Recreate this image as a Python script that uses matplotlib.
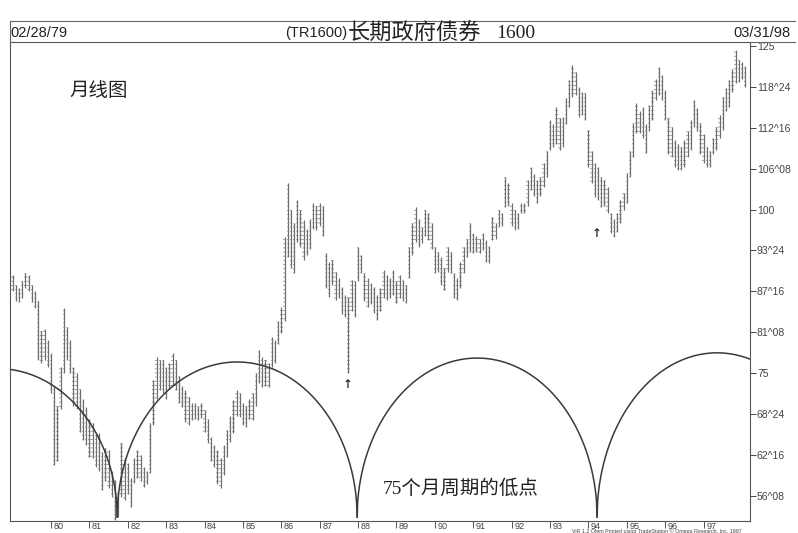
import numpy as np
import matplotlib.pyplot as plt

plt.rcParams['font.family'] = ['Liberation Sans', 'Noto Sans CJK SC', 'DejaVu Sans']
plt.rcParams['hatch.linewidth'] = 0.6

# monthly highs / lows, index 0 = Feb 1979 ... 229 = Mar 1998
highs = [
    90.0, 88.5, 88.0, 89.0, 90.3, 90.0, 88.4, 87.5, 86.0, 81.5, 81.8,
    80.0, 78.0, 73.0, 70.0, 76.0, 85.0, 82.0, 80.0, 76.0, 75.0, 72.5, 71.0,
    69.8, 68.0, 67.4, 65.5, 65.9, 63.0, 63.5, 63.3, 60.0, 58.7, 57.0, 64.3,
    62.0, 61.3, 59.0, 62.0, 63.3, 62.5, 60.7, 60.0, 67.4, 74.0, 77.5, 77.0,
    77.0, 76.0, 76.5, 78.1, 77.0, 74.5, 73.0, 72.4, 71.4, 70.5, 70.5, 70.0,
    70.5, 69.4, 68.0, 65.3, 64.0, 63.3, 62.0, 64.0, 66.3, 68.5, 70.9, 72.4,
    72.0, 70.5, 70.0, 71.0, 72.0, 75.0, 78.6, 77.5, 77.0, 76.5, 80.5, 80.0,
    83.0, 85.1, 95.8, 104.1, 100.0, 98.0, 101.5, 100.0, 98.4, 97.0, 98.5, 101.0,
    100.5, 101.0, 100.5, 93.4, 92.0, 92.3, 90.5, 89.5, 88.2, 87.0, 86.7, 89.2,
    89.0, 94.3, 93.0, 90.3, 89.5, 88.8, 88.2, 87.0, 88.0, 90.8, 90.0, 89.5,
    90.8, 89.0, 90.0, 89.2, 88.5, 94.3, 98.0, 100.4, 98.5, 97.4, 99.9, 99.5,
    98.0, 94.3, 93.5, 92.8, 91.0, 94.3, 93.5, 90.3, 89.5, 92.0, 94.3, 95.5,
    97.9, 96.4, 96.0, 95.5, 96.4, 95.4, 94.5, 98.9, 98.0, 99.9, 99.5, 105.0,
    104.0, 101.0, 100.0, 99.5, 101.0, 101.0, 104.5, 106.5, 105.5, 104.5, 105.0, 107.1,
    109.0, 113.7, 113.0, 115.7, 114.0, 114.2, 117.0, 119.8, 122.1, 121.0, 118.7, 118.0,
    117.8, 112.2, 109.0, 107.1, 106.5, 105.0, 104.5, 103.5, 99.5, 98.5, 99.5, 101.5,
    102.5, 105.6, 109.0, 113.2, 116.3, 115.0, 115.7, 113.0, 116.0, 118.3, 120.0, 121.8,
    120.5, 118.3, 114.0, 112.6, 110.6, 110.0, 109.5, 110.6, 112.0, 113.7, 116.7, 115.5,
    113.2, 111.5, 109.6, 109.0, 111.0, 112.6, 114.5, 117.2, 118.5, 119.8, 121.5, 124.4,
    122.9, 122.5, 122.0,
]
lows = [
    87.5, 86.0, 85.8, 86.5, 88.0, 87.6, 85.8, 85.0, 77.0, 76.5, 77.0,
    76.0, 72.0, 61.0, 61.5, 69.5, 75.0, 77.0, 75.0, 70.0, 69.5, 66.0, 64.8,
    64.0, 62.2, 62.0, 60.7, 60.0, 57.2, 58.5, 57.5, 56.0, 52.6, 53.0, 56.0,
    55.6, 56.5, 54.6, 58.2, 59.0, 58.5, 57.6, 58.0, 59.8, 67.0, 71.0, 72.4,
    72.0, 71.0, 72.5, 73.0, 72.4, 70.5, 69.8, 67.5, 67.0, 67.9, 68.0, 67.9,
    68.2, 66.0, 64.3, 61.5, 60.7, 58.0, 57.5, 59.5, 62.2, 64.5, 65.9, 68.5,
    68.3, 67.0, 66.8, 68.0, 67.9, 70.0, 73.5, 72.9, 73.0, 72.9, 76.0, 76.6,
    79.5, 81.1, 83.0, 92.8, 91.0, 90.3, 95.0, 94.3, 92.3, 93.0, 94.0, 97.0,
    96.9, 97.5, 96.0, 88.0, 86.7, 88.5, 86.2, 86.5, 84.0, 83.6, 75.0, 84.5,
    83.6, 89.0, 90.3, 86.0, 85.1, 85.5, 84.2, 83.1, 84.5, 86.5, 86.2, 86.5,
    87.0, 85.7, 86.5, 86.0, 85.7, 89.5, 93.0, 95.0, 94.3, 94.9, 96.0, 95.4,
    94.0, 90.3, 90.5, 88.5, 87.7, 90.5, 90.3, 86.5, 86.2, 88.0, 90.3, 92.8,
    93.5, 93.4, 93.5, 93.4, 93.8, 92.0, 91.8, 95.4, 95.5, 97.3, 97.5, 100.4,
    100.5, 97.5, 96.9, 97.0, 99.5, 99.5, 100.5, 103.0, 102.0, 101.0, 102.0, 103.5,
    105.0, 109.1, 109.5, 110.0, 109.1, 109.6, 113.0, 115.7, 117.2, 117.5, 114.2, 114.5,
    113.7, 106.5, 104.0, 101.9, 101.5, 100.4, 100.5, 99.5, 96.4, 95.8, 96.5, 97.9,
    100.0, 101.0, 105.0, 108.0, 111.7, 111.7, 111.0, 108.6, 112.0, 113.7, 116.7, 117.5,
    116.7, 113.7, 108.5, 108.0, 106.5, 106.0, 106.0, 106.5, 108.0, 109.1, 112.6, 112.0,
    108.5, 107.1, 106.5, 106.5, 108.5, 109.1, 111.0, 112.2, 115.0, 115.7, 118.0, 119.3,
    119.5, 120.0, 118.7,
]
months = np.arange(len(highs))

year_ticks = np.arange(12, 217, 12)
year_labels = ['80', '81', '82', '83', '84', '85', '86', '87', '88',
               '89', '90', '91', '92', '93', '94', '95', '96', '97']

price_ticks = [125, 118.75, 112.5, 106.25, 100, 93.75, 87.5, 81.25, 75, 68.75, 62.5, 56.25]
price_labels = ['125', '118^24', '112^16', '106^08', '100', '93^24',
                '87^16', '81^08', '75', '68^24', '62^16', '56^08']

# 75-month cycle arcs: low points (month index) and arc tops
arc_edges = [-42.3, 32.7, 107.7, 182.7, 257.7]
arc_tops = [75.7, 76.7, 77.3, 78.1]
arc_base = 53.0

# small arrows under the lows
arrow_x = [104.8, 182.6]
arrow_y = [73.2, 96.4]

W, H = 798, 533
fig = plt.figure(figsize=(W / 100, H / 100), dpi=100)
ax = fig.add_axes([10 / W, 1 - 521 / H, 740 / W, 479 / H])

# scanned-looking bars: thin ladder columns with a solid spine
hl = np.array(highs) - np.array(lows)
ax.bar(months, hl, bottom=lows, width=0.75, fill=False, hatch='----',
       edgecolor='#9a9a9a', linewidth=0.0)
ax.vlines(months, lows, highs, colors='#6e6e6e', linewidth=0.9)

for i in range(len(arc_tops)):
    x0, x1 = arc_edges[i], arc_edges[i + 1]
    c, a = (x0 + x1) / 2, (x1 - x0) / 2
    xs = np.linspace(x0, x1, 400)
    ys = arc_base + (arc_tops[i] - arc_base) * np.sqrt(np.clip(1 - ((xs - c) / a) ** 2, 0, 1))
    ax.plot(xs, ys, color='#3a3a3a', linewidth=1.1)

for x, y in zip(arrow_x, arrow_y):
    ax.text(x, y, '↑', ha='center', va='center', fontsize=8.5, fontweight='bold',
            color='#333333', family='DejaVu Sans')

ax.set_xlim(-0.8, 230.5)
ax.set_ylim(52.4, 125.6)

ax.yaxis.tick_right()
ax.set_yticks(price_ticks, price_labels)
ax.tick_params(axis='y', direction='out', length=4, width=0.7, pad=1,
               labelsize=7.5, colors='#444444')
ax.set_xticks(year_ticks, [])
ax.tick_params(axis='x', direction='out', length=5, width=0.7, colors='#555555')
for x, lab in zip(year_ticks, year_labels):
    ax.text(x + 0.8, -0.002, lab, transform=ax.get_xaxis_transform(),
            ha='left', va='top', fontsize=6.6, color='#444444')

for s in ax.spines.values():
    s.set_color('#555555')
    s.set_linewidth(0.8)

# header box
fig.add_artist(plt.Line2D([10 / W, 795 / W], [1 - 21 / H, 1 - 21 / H], color='#666666', lw=0.8))
fig.add_artist(plt.Line2D([750 / W, 795 / W], [1 - 42 / H, 1 - 42 / H], color='#666666', lw=0.8))
fig.add_artist(plt.Line2D([10 / W, 10 / W], [1 - 21 / H, 1 - 42 / H], color='#666666', lw=0.8))

ty = 1 - 33 / H
fig.text(10 / W, ty, '02/28/79', ha='left', va='center', fontsize=10.5, color='#222222')
fig.text(790 / W, ty, '03/31/98', ha='right', va='center', fontsize=10.5, color='#222222')
fig.text(347 / W, ty, '(TR1600)', ha='right', va='center', fontsize=10.5, color='#222222')
fig.text(348 / W, ty, '长期政府债券', ha='left', va='center', fontsize=16,
         color='#222222', family='Noto Sans CJK SC')
fig.text(496 / W, ty, '1600', ha='left', va='center', fontsize=14,
         color='#222222', family='Liberation Serif')

fig.text(99 / W, 1 - 91 / H, '月线图', ha='center', va='center', fontsize=14,
         color='#222222', family='Noto Sans CJK SC')
fig.text(461 / W, 1 - 489 / H, '75个月周期的低点', ha='center', va='center', fontsize=14,
         color='#222222', family=['Liberation Serif', 'Noto Sans CJK SC'])

fig.text(572 / W, 1 - 531.3 / H, 'ViR 1.2 Ofem Printed using TradeStation © Omega Research, Inc. 1997',
         ha='left', va='center', fontsize=3.8, color='#444444')

fig.savefig('out.png', dpi=100)
